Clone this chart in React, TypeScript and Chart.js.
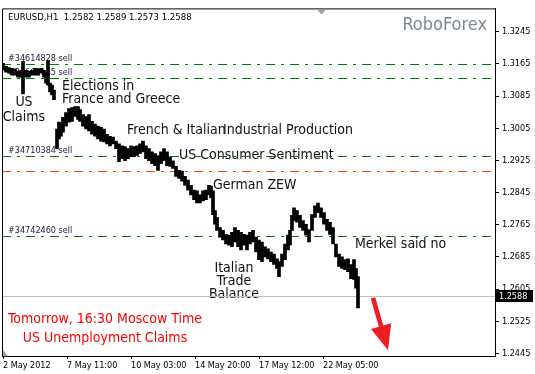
import React, { useEffect, useRef } from 'react';
import { Chart, registerables } from 'chart.js';

Chart.register(...registerables);

// ---- price bars (hour offset from first bar, high, low) ----
const barHours = [0, 3, 6, 9, 12, 15, 18, 20, 23, 26, 29, 32, 35, 38, 41, 43, 45, 47, 49, 51,
  54, 56, 58, 60, 63, 66, 69, 72, 75, 77, 80, 83, 86, 89, 92, 95, 98, 101, 104, 107,
  110, 113, 116, 119, 122, 125, 128, 131, 134, 137, 140, 143, 146, 149, 152, 155, 158, 161, 164, 167,
  170, 173, 176, 179, 182, 185, 188, 191, 194, 197, 200, 203, 206, 208, 210, 212, 214, 217, 220, 223,
  226, 229, 232, 235, 238, 241, 244, 247, 250, 253, 256, 259, 262, 265, 268, 271, 274, 276, 279, 282,
  285, 287, 289, 291, 294, 297, 300, 303, 306, 309, 312, 315, 318, 321, 324, 327, 330, 333, 336, 339,
  342, 345, 348, 351, 353, 355];
const barHigh = [1.3166, 1.3159, 1.3156, 1.3154, 1.3152, 1.3147, 1.3149, 1.3171, 1.3149, 1.3147,
  1.3149, 1.3154, 1.3152, 1.3154, 1.3149, 1.3142, 1.3173, 1.3117, 1.3112, 1.3100,
  1.3003, 1.3020, 1.3015, 1.3032, 1.3044, 1.3054, 1.3056, 1.3059, 1.3059, 1.3051,
  1.3039, 1.3034, 1.3039, 1.3022, 1.3015, 1.3010, 1.3007, 1.3003, 1.2990, 1.2985,
  1.2983, 1.2973, 1.2966, 1.2961, 1.2959, 1.2954, 1.2961, 1.2959, 1.2961, 1.2966,
  1.2973, 1.2961, 1.2954, 1.2946, 1.2942, 1.2937, 1.2946, 1.2954, 1.2946, 1.2934,
  1.2924, 1.2910, 1.2900, 1.2898, 1.2885, 1.2876, 1.2863, 1.2851, 1.2849, 1.2839,
  1.2849, 1.2851, 1.2863, 1.2861, 1.2849, 1.2800, 1.2783, 1.2758, 1.2751, 1.2741,
  1.2739, 1.2746, 1.2758, 1.2751, 1.2746, 1.2741, 1.2739, 1.2746, 1.2751, 1.2734,
  1.2727, 1.2722, 1.2710, 1.2705, 1.2697, 1.2692, 1.2680, 1.2673, 1.2692, 1.2717,
  1.2739, 1.2751, 1.2788, 1.2807, 1.2800, 1.2788, 1.2775, 1.2766, 1.2753, 1.2790,
  1.2812, 1.2819, 1.2807, 1.2795, 1.2778, 1.2771, 1.2758, 1.2717, 1.2692, 1.2685,
  1.2678, 1.2680, 1.2666, 1.2678, 1.2656, 1.2636];
const barLow = [1.3149, 1.3144, 1.3142, 1.3137, 1.3137, 1.3132, 1.3132, 1.3090, 1.3132, 1.3132,
  1.3137, 1.3137, 1.3137, 1.3142, 1.3132, 1.3117, 1.3112, 1.3095, 1.3088, 1.3076,
  1.2954, 1.2978, 1.2985, 1.2995, 1.3010, 1.3020, 1.3022, 1.3034, 1.3027, 1.3022,
  1.3010, 1.3003, 1.2998, 1.2990, 1.2985, 1.2978, 1.2973, 1.2971, 1.2966, 1.2961,
  1.2966, 1.2954, 1.2922, 1.2929, 1.2924, 1.2929, 1.2934, 1.2934, 1.2937, 1.2942,
  1.2946, 1.2929, 1.2924, 1.2917, 1.2912, 1.2900, 1.2917, 1.2924, 1.2912, 1.2910,
  1.2905, 1.2885, 1.2880, 1.2873, 1.2863, 1.2851, 1.2839, 1.2827, 1.2819, 1.2819,
  1.2824, 1.2827, 1.2839, 1.2832, 1.2790, 1.2766, 1.2751, 1.2734, 1.2727, 1.2717,
  1.2714, 1.2710, 1.2722, 1.2710, 1.2702, 1.2714, 1.2702, 1.2717, 1.2722, 1.2697,
  1.2678, 1.2673, 1.2685, 1.2680, 1.2673, 1.2666, 1.2656, 1.2636, 1.2661, 1.2678,
  1.2702, 1.2714, 1.2751, 1.2775, 1.2771, 1.2758, 1.2751, 1.2739, 1.2722, 1.2751,
  1.2783, 1.2795, 1.2783, 1.2766, 1.2751, 1.2741, 1.2717, 1.2685, 1.2661, 1.2656,
  1.2653, 1.2648, 1.2631, 1.2629, 1.2607, 1.2558];

// ---- axes ----
const xTickHours = [0, 64, 128, 192, 256, 320];
const xTickLabels = ['2 May 2012', '7 May 11:00', '10 May 03:00', '14 May 20:00', '17 May 12:00', '22 May 05:00'];
const yTickValues = [1.2445, 1.2525, 1.2605, 1.2685, 1.2765, 1.2845, 1.2925, 1.3005, 1.3085, 1.3165, 1.3245];

// ---- header / levels ----
const symbolTitle = 'EURUSD,H1';
const lastOHLC = [1.2582, 1.2589, 1.2573, 1.2588];
const bidPrice = 1.2588;
const watermark = 'RoboForex';
const orderLevels = [1.3165, 1.3130, 1.2936, 1.2736];
const orderLabels = ['#34614828 sell', '#34661145 sell', '#34710384 sell', '#34742460 sell'];
const stopLevel = 1.2898;

// ---- annotations ----
const noteTexts = ['Elections in', 'France and Greece', 'US', 'Claims', 'French & Italian', 'Industrial Production',
  'US Consumer Sentiment', 'German ZEW', 'Italian', 'Trade', 'Balance', 'Merkel said no'];
const noteHours = [59, 59, 21, 21, 124, 220, 176, 210, 231, 231, 231, 352];
const notePrices = [1.3108, 1.3076, 1.3068, 1.3032, 1.3000, 1.3000, 1.2937, 1.2863, 1.2656, 1.2624, 1.2592, 1.2717];
const noteAlign = ['left', 'left', 'center', 'center', 'left', 'left', 'left', 'left', 'center', 'center', 'center', 'left'];
const alertTexts = ['Tomorrow, 16:30 Moscow Time', 'US Unemployment Claims'];
const alertHour = 102;
const alertPrices = [1.2529, 1.2482];
const arrowHours = [370, 385];
const arrowPrices = [1.2583, 1.2453];

const FONT = '"DejaVu Sans Condensed", "Liberation Sans", sans-serif';

function hLine(ctx: CanvasRenderingContext2D, a: any, py: number, color: string, dash: number[]) {
  ctx.save();
  ctx.strokeStyle = color;
  ctx.lineWidth = 1;
  ctx.setLineDash(dash);
  ctx.beginPath();
  const yy = Math.round(py) + 0.5;
  ctx.moveTo(a.left, yy);
  ctx.lineTo(a.right, yy);
  ctx.stroke();
  ctx.restore();
}

const overlayPlugin = {
  id: 'overlay',
  beforeDatasetsDraw(chart: any) {
    const { ctx, chartArea: a, scales } = chart;
    const x = scales.x, y = scales.y;
    ctx.save();
    ctx.beginPath();
    ctx.rect(a.left, a.top, a.right - a.left, a.bottom - a.top);
    ctx.clip();

    // notes
    ctx.font = '14px ' + FONT;
    ctx.fillStyle = '#111111';
    ctx.textBaseline = 'middle';
    noteTexts.forEach((t, i) => {
      ctx.textAlign = noteAlign[i] as CanvasTextAlign;
      ctx.fillText(t, x.getPixelForValue(noteHours[i]), y.getPixelForValue(notePrices[i]));
    });

    // order labels
    ctx.font = '9px ' + FONT;
    ctx.fillStyle = '#1a1a3a';
    ctx.textAlign = 'left';
    ctx.textBaseline = 'bottom';
    orderLabels.forEach((t, i) => {
      ctx.fillText(t, a.left + 6, Math.round(y.getPixelForValue(orderLevels[i])) - 0.5);
    });

    // lines
    const dash = [9, 6, 3, 6];
    orderLevels.forEach((v) => hLine(ctx, a, y.getPixelForValue(v), '#008000', dash));
    hLine(ctx, a, y.getPixelForValue(stopLevel), '#ff4500', dash);
    hLine(ctx, a, y.getPixelForValue(bidPrice), '#c0c0c0', []);
    ctx.restore();
  },
  afterDraw(chart: any) {
    const { ctx, chartArea: a, scales } = chart;
    const x = scales.x, y = scales.y;
    ctx.save();

    // frame left/top
    ctx.strokeStyle = '#000';
    ctx.lineWidth = 1;
    ctx.beginPath();
    ctx.moveTo(a.left + 0.5, a.bottom);
    ctx.lineTo(a.left + 0.5, a.top + 0.5);
    ctx.lineTo(a.right, a.top + 0.5);
    ctx.stroke();

    // header
    ctx.font = '9.5px ' + FONT;
    ctx.fillStyle = '#000';
    ctx.textAlign = 'left';
    ctx.textBaseline = 'middle';
    ctx.fillText(symbolTitle + '  ' + lastOHLC.map((v) => v.toFixed(4)).join(' '), a.left + 6, a.top + 9.5);

    // watermark
    ctx.font = '18px ' + FONT;
    ctx.fillStyle = '#7d8896';
    ctx.textAlign = 'right';
    ctx.fillText(watermark, a.right - 8, a.top + 16.5);

    // red alert texts
    ctx.font = '14px ' + FONT;
    ctx.fillStyle = '#ff0000';
    ctx.textAlign = 'center';
    alertTexts.forEach((t, i) => {
      ctx.fillText(t, x.getPixelForValue(alertHour), y.getPixelForValue(alertPrices[i]));
    });

    // bid box
    const by = Math.round(y.getPixelForValue(bidPrice));
    ctx.fillStyle = '#000';
    ctx.fillRect(a.right + 1, by - 6, 37, 12);
    ctx.font = '9px ' + FONT;
    ctx.fillStyle = '#fff';
    ctx.textAlign = 'left';
    ctx.fillText(bidPrice.toFixed(4), a.right + 4, by + 0.5);

    // arrow
    const x0 = x.getPixelForValue(arrowHours[0]), y0 = y.getPixelForValue(arrowPrices[0]);
    const x1 = x.getPixelForValue(arrowHours[1]), y1 = y.getPixelForValue(arrowPrices[1]);
    const len = Math.hypot(x1 - x0, y1 - y0);
    const dx = (x1 - x0) / len, dy = (y1 - y0) / len;
    const nx = -dy, ny = dx;
    const headLen = 25, headHalf = 10.5, shaft = 2.3;
    const bx = x1 - dx * headLen, byy = y1 - dy * headLen;
    ctx.fillStyle = '#ee1c25';
    ctx.beginPath();
    ctx.moveTo(x0 + nx * shaft, y0 + ny * shaft);
    ctx.lineTo(bx + nx * shaft, byy + ny * shaft);
    ctx.lineTo(bx + nx * headHalf, byy + ny * headHalf);
    ctx.lineTo(x1, y1);
    ctx.lineTo(bx - nx * headHalf, byy - ny * headHalf);
    ctx.lineTo(bx - nx * shaft, byy - ny * shaft);
    ctx.lineTo(x0 - nx * shaft, y0 - ny * shaft);
    ctx.closePath();
    ctx.fill();

    // small grey markers
    ctx.fillStyle = '#a0a0a0';
    ctx.beginPath();
    ctx.moveTo(a.left + 315, a.top + 1);
    ctx.lineTo(a.left + 324, a.top + 1);
    ctx.lineTo(a.left + 319.5, a.top + 6);
    ctx.closePath();
    ctx.fill();
    ctx.beginPath();
    ctx.moveTo(a.left + 1, a.bottom - 6);
    ctx.lineTo(a.left + 1, a.bottom);
    ctx.lineTo(a.left + 6, a.bottom);
    ctx.closePath();
    ctx.fill();

    ctx.restore();
  },
};

export default function App() {
  const ref = useRef<HTMLCanvasElement>(null);
  useEffect(() => {
    const canvas = ref.current;
    if (!canvas) return;
    const tickFont = { family: FONT, size: 9 };
    const chart = new Chart(canvas, {
      type: 'bar',
      data: {
        datasets: [{
          data: barHours.map((h, i) => ({ x: h, y: [barLow[i], barHigh[i]] })) as any,
          backgroundColor: '#000000',
          borderWidth: 0,
          barThickness: 3,
        }],
      },
      options: {
        responsive: false,
        animation: false,
        devicePixelRatio: 1,
        layout: { padding: { left: 2, top: 2, right: 0, bottom: 0 } },
        plugins: { legend: { display: false }, tooltip: { enabled: false } },
        scales: {
          x: {
            type: 'linear',
            min: -1,
            max: 492,
            offset: false,
            grid: { display: true, drawOnChartArea: false, drawTicks: true, tickLength: 3, color: '#000', offset: false },
            border: { display: true, color: '#000', width: 1 },
            afterBuildTicks: (s: any) => { s.ticks = xTickHours.map((v) => ({ value: v })); },
            afterFit: (s: any) => { s.height = 18; },
            ticks: {
              autoSkip: false,
              maxRotation: 0,
              minRotation: 0,
              align: 'start',
              padding: 1,
              color: '#000',
              font: tickFont,
              callback: (v: any) => {
                const i = xTickHours.indexOf(Number(v));
                return i >= 0 ? xTickLabels[i] : '';
              },
            },
          },
          y: {
            type: 'linear',
            position: 'right',
            min: 1.24384,
            max: 1.33029,
            grid: { display: true, drawOnChartArea: false, drawTicks: true, tickLength: 4, color: '#000' },
            border: { display: true, color: '#000', width: 1 },
            afterBuildTicks: (s: any) => { s.ticks = yTickValues.map((v) => ({ value: v })); },
            afterFit: (s: any) => { s.width = 40; },
            ticks: {
              padding: 3,
              color: '#000',
              font: tickFont,
              callback: (v: any) => Number(v).toFixed(4),
            },
          },
        },
      } as any,
      plugins: [overlayPlugin],
    });
    return () => chart.destroy();
  }, []);
  return (
    <div style={{ position: 'fixed', left: 0, top: 0, width: 535, height: 374, background: '#fff' }}>
      <canvas ref={ref} width={535} height={374} style={{ display: 'block' }} />
    </div>
  );
}
